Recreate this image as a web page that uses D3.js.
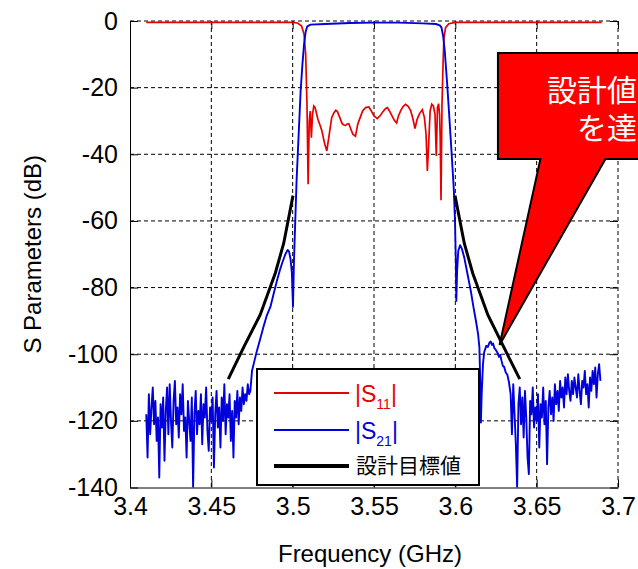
<!DOCTYPE html>
<html><head><meta charset="utf-8">
<script src="https://cdn.jsdelivr.net/npm/d3@7"></script>
<style>body{margin:0;background:#fff} svg{display:block}</style>
</head><body>
<svg id="c" width="638" height="569"></svg>
<script>
// ---------- data ----------
const freqTicks = [3.4, 3.45, 3.5, 3.55, 3.6, 3.65, 3.7];
const freqTickLabels = ["3.4", "3.45", "3.5", "3.55", "3.6", "3.65", "3.7"];
const dbTicks = [0, -20, -40, -60, -80, -100, -120, -140];
const dbTickLabels = ["0", "-20", "-40", "-60", "-80", "-100", "-120", "-140"];

const s11Freq = [3.41, 3.50, 3.503, 3.5055, 3.507, 3.508, 3.5088, 3.5095, 3.5102, 3.5108, 3.5115, 3.5122, 3.513, 3.5138,
  3.5155, 3.517, 3.518, 3.5195, 3.521, 3.5228, 3.524, 3.5253, 3.5265, 3.5275, 3.529, 3.5304, 3.5315, 3.5325, 3.5335,
  3.5345, 3.5358, 3.537, 3.5386, 3.540, 3.5417, 3.543, 3.5448, 3.5468, 3.548, 3.55, 3.552, 3.554, 3.5555, 3.557, 3.5582,
  3.5595, 3.561, 3.5625, 3.5639, 3.565, 3.5665, 3.568, 3.5694, 3.571, 3.5725, 3.574, 3.5752, 3.5765, 3.578, 3.5797,
  3.581, 3.582, 3.5828, 3.5836, 3.5845, 3.5855, 3.5865, 3.5875, 3.5883, 3.589, 3.5897, 3.5903, 3.5907, 3.5912, 3.5918,
  3.5925, 3.593, 3.594, 3.596, 3.60, 3.69];
const s11Db = [-0.4, -0.4, -0.6, -1.5, -4, -10, -25, -49, -30, -27, -35, -28, -25.5, -26,
  -29.5, -31.5, -33, -36.5, -39, -33, -29, -27.6, -26.8, -27.2, -29, -30.8, -31.2, -31.3, -30.9,
  -30.8, -32.5, -34, -34.6, -31, -28.7, -27, -26, -25.8, -26.7, -28.5, -29.3, -28.3, -27.2, -26.3, -26.0,
  -27, -28.4, -29.8, -30.6, -28.5, -26.8, -25.6, -25.0, -25.6, -26.8, -29.5, -32.3, -29.5, -27.8, -26.6,
  -29, -34, -45, -37, -27, -25, -25.5, -28, -40.5, -26, -24.8, -28, -35, -53.8, -25,
  -12, -5, -2, -0.8, -0.4, -0.4];

const s21LeftNoiseStart = 3.410, s21LeftNoiseStep = 0.0008;
const s21LeftNoiseDb = [-118, -131, -112, -124, -116, -110, -121, -114, -126, -119,
  -137, -115, -122, -113, -132, -117, -110, -124, -109, -120,
  -128, -114, -108, -121, -116, -125, -112, -118, -109, -123,
  -119, -131, -114, -120, -126, -113, -140, -118, -111, -124,
  -117, -121, -112, -127, -115, -119, -110, -123, -129, -116,
  -120, -113, -134, -118, -111, -122, -116, -128, -113, -120,
  -109, -124, -115, -119, -112, -126, -117, -131, -114, -119,
  -111, -121, -113, -117, -110, -115, -112, -114, -109, -112];

const s21SkirtFreq = [3.4740, 3.4750, 3.4765, 3.4780, 3.4800, 3.4821, 3.4840, 3.4863, 3.4885, 3.4904,
  3.4920, 3.4935, 3.4955, 3.4969, 3.4978, 3.4987, 3.4995, 3.5002, 3.5008, 3.5016,
  3.5024, 3.5035, 3.5049, 3.5060, 3.5070, 3.5080, 3.5090, 3.5110, 3.5200, 3.5350,
  3.5500, 3.5650, 3.5800, 3.5880, 3.5905, 3.5915, 3.5925, 3.5935, 3.5950, 3.5962,
  3.5975, 3.5990, 3.5998, 3.6003, 3.6006, 3.6011, 3.6018, 3.6029, 3.6040, 3.6055,
  3.6075, 3.6095, 3.6112, 3.6126, 3.6140, 3.6148, 3.6153, 3.6157, 3.6162, 3.6170,
  3.6177, 3.6190, 3.6200, 3.6210, 3.6218, 3.6225, 3.6232, 3.6240, 3.6250, 3.6260,
  3.6268, 3.6276, 3.6284, 3.6292, 3.6300, 3.6310, 3.6320, 3.6330];
const s21SkirtDb = [-111, -105, -102, -99, -95.5, -91.7, -88.5, -85.8, -81.5, -77.8,
  -75, -72.7, -70, -68.7, -69.2, -71.5, -75.5, -85.8, -72, -60,
  -48, -36, -21, -13, -7, -3.2, -1.6, -1.1, -0.9, -0.6,
  -0.5, -0.5, -0.7, -0.9, -1.3, -2, -4.5, -9, -19, -28,
  -38, -50, -60, -72, -84, -75, -69, -67.3, -68.3, -71,
  -76, -81, -86, -89.8, -94, -98, -108, -120.5, -112, -103,
  -99.5, -97.5, -97.8, -96.5, -96.2, -97.2, -96.8, -98.2, -98.8, -99.6,
  -100.8, -100.2, -102, -103.5, -103.8, -105.5, -106.2, -108.5];

const s21RightNoiseStart = 3.634, s21RightNoiseStep = 0.0008;
const s21RightNoiseDb = [-112, -124, -109, -118, -127, -140, -115, -110, -121, -113,
  -125, -111, -119, -131, -136, -114, -118, -110, -122, -116,
  -120, -112, -128, -115, -119, -110, -121, -114, -133, -116,
  -111, -118, -113, -120, -109, -115, -111, -117, -108, -113,
  -110, -116, -107, -112, -106, -111, -114, -108, -112, -107,
  -110, -113, -106, -111, -115, -108, -110, -105, -112, -109,
  -116, -107, -111, -105, -109, -104, -113, -106, -103, -108];

const targetLeftFreq = [3.4604, 3.470, 3.480, 3.4893, 3.4945, 3.5002];
const targetLeftDb = [-107.5, -97.8, -88.2, -75.7, -66.7, -52.4];
const targetRightFreq = [3.5998, 3.6055, 3.6107, 3.620, 3.6396];
const targetRightDb = [-52.4, -66.7, -75.7, -88.2, -107.5];

const legendNames = ["S", "S", "設計目標値"];
const legendSubs = ["11", "21", ""];
const calloutLines = ["設計値以上", "を達成"];

// ---------- drawing ----------
const RED = "#e60000", BLUE = "#0000dc";
const svg = d3.select("#c");
const PL = 130, PR = 618, PT = 21, PB = 487.5;
const x = d3.scaleLinear().domain([3.4, 3.7]).range([PL, PR]);
const y = d3.scaleLinear().domain([-140, 0]).range([PB, PT]);
const FONT = "'Liberation Sans', Arial, sans-serif";
const CJK = "'Noto Sans CJK JP', sans-serif";

svg.append("defs").append("clipPath").attr("id", "plotclip")
  .append("rect").attr("x", PL).attr("y", PT - 2).attr("width", PR - PL + 1).attr("height", PB - PT + 2);

// grid
const grid = svg.append("g").attr("stroke", "#000").attr("stroke-width", 1).attr("stroke-dasharray", "4,3").attr("fill", "none");
freqTicks.slice(1).forEach(f => grid.append("line").attr("x1", x(f)).attr("x2", x(f)).attr("y1", PT).attr("y2", PB));
dbTicks.slice(0, -1).forEach(v => grid.append("line").attr("x1", PL).attr("x2", PR).attr("y1", y(v)).attr("y2", y(v)));

// axes
const ax = svg.append("g");
const axLeft = ax.append("g").attr("transform", `translate(${PL},0)`)
  .call(d3.axisLeft(y).tickValues(dbTicks).tickFormat((d, i) => dbTickLabels[i]).tickSizeInner(-8).tickSizeOuter(0).tickPadding(12));
const axBottom = ax.append("g").attr("transform", `translate(0,${PB})`)
  .call(d3.axisBottom(x).tickValues(freqTicks).tickFormat((d, i) => freqTickLabels[i]).tickSizeInner(-8).tickSizeOuter(0).tickPadding(10));
const axRight = ax.append("g").attr("transform", `translate(${PR},0)`)
  .call(d3.axisRight(y).tickValues(dbTicks).tickFormat("").tickSizeInner(-8).tickSizeOuter(0));
const axTop = ax.append("g").attr("transform", `translate(0,${PT})`)
  .call(d3.axisTop(x).tickValues(freqTicks).tickFormat("").tickSizeInner(-8).tickSizeOuter(0));
[axRight, axTop].forEach(g => g.select(".domain").remove());
[axLeft, axBottom].forEach(g => g.select(".domain").attr("stroke", "#000"));
ax.selectAll(".tick line").attr("stroke", "#000");
ax.selectAll(".tick text").attr("font-family", FONT).attr("font-size", 25).attr("fill", "#000");

// data lines
const line = d3.line().x(d => x(d[0])).y(d => y(d[1]));
const plot = svg.append("g").attr("clip-path", "url(#plotclip)");
const s11 = s11Freq.map((f, i) => [f, s11Db[i]]);
const s21 = [
  ...s21LeftNoiseDb.map((v, i) => [s21LeftNoiseStart + i * s21LeftNoiseStep, v]),
  ...s21SkirtFreq.map((f, i) => [f, s21SkirtDb[i]]),
  ...s21RightNoiseDb.map((v, i) => [s21RightNoiseStart + i * s21RightNoiseStep, v])
];
plot.append("path").datum(s11).attr("d", line).attr("fill", "none").attr("stroke", RED).attr("stroke-width", 1.7);
plot.append("path").datum(s21).attr("d", line).attr("fill", "none").attr("stroke", BLUE).attr("stroke-width", 1.9).attr("stroke-linejoin", "round");
[[targetLeftFreq, targetLeftDb], [targetRightFreq, targetRightDb]].forEach(([fs, ds]) =>
  plot.append("path").datum(fs.map((f, i) => [f, ds[i]])).attr("d", line)
    .attr("fill", "none").attr("stroke", "#000").attr("stroke-width", 3));

// legend
const lg = svg.append("g");
lg.append("rect").attr("x", 257).attr("y", 369).attr("width", 222).attr("height", 116)
  .attr("fill", "#fff").attr("stroke", "#000").attr("stroke-width", 2);
const legColors = [RED, BLUE, "#000"];
const legY = [393, 430, 466];
legendNames.forEach((n, i) => {
  lg.append("line").attr("x1", 274).attr("x2", 349).attr("y1", legY[i]).attr("y2", legY[i])
    .attr("stroke", legColors[i]).attr("stroke-width", i === 2 ? 4 : 2);
  if (legendSubs[i]) {
    const t = lg.append("text").attr("x", 355).attr("y", legY[i] + 9).attr("font-family", FONT)
      .attr("font-size", 23).attr("fill", legColors[i]);
    t.append("tspan").text("|" + n);
    t.append("tspan").attr("font-size", 14).attr("dy", 7).text(legendSubs[i]);
    t.append("tspan").attr("dy", -7).text("|");
  } else {
    lg.append("text").attr("x", 356).attr("y", legY[i] + 7).attr("font-family", CJK)
      .attr("font-size", 21).attr("fill", "#000").text(n);
  }
});

// axis titles
svg.append("text").attr("x", (PL + PR) / 2 - 4).attr("y", 562).attr("text-anchor", "middle")
  .attr("font-family", FONT).attr("font-size", 24).attr("fill", "#000").text("Frequency (GHz)");
svg.append("text").attr("transform", `translate(41,${(PT + PB) / 2}) rotate(-90)`).attr("text-anchor", "middle")
  .attr("font-family", FONT).attr("font-size", 24).attr("fill", "#000").text("S Parameters (dB)");

// callout
const cTip = [x(3.6272), y(-97.2)];
const cL = x(3.6262), cT = y(-9.6), cB = y(-41.4);
const pts = [[cL, cT], [700, cT], [700, cB], [x(3.6923), cB], cTip, [x(3.6523), cB], [cL, cB]];
svg.append("path").attr("d", "M" + pts.map(p => p.join(",")).join("L") + "Z")
  .attr("fill", "#ff0000").attr("stroke", "#000").attr("stroke-width", 2).attr("stroke-linejoin", "miter");
svg.append("text").attr("x", 547).attr("y", 101).attr("font-family", CJK).attr("font-size", 30).attr("fill", "#fff").text(calloutLines[0]);
svg.append("text").attr("x", 577).attr("y", 139).attr("font-family", CJK).attr("font-size", 30).attr("fill", "#fff").text(calloutLines[1]);
</script>
</body></html>
